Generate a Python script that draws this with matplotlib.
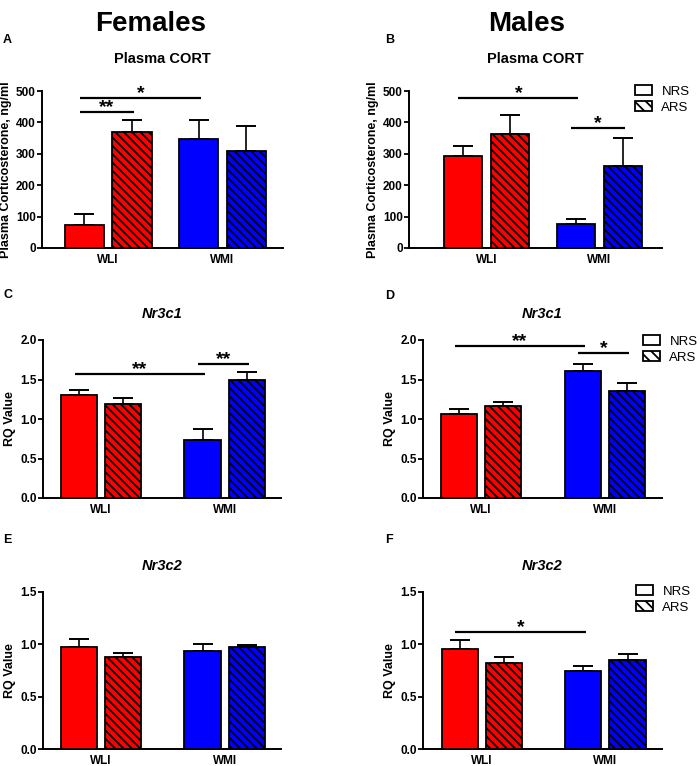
import numpy as np
import matplotlib
matplotlib.use("Agg")
from matplotlib import pyplot as plt
from matplotlib.patches import Patch

plt.rcParams["font.family"] = ["Liberation Sans", "DejaVu Sans"]
plt.rcParams["hatch.linewidth"] = 1.3

# data: order is WLI-NRS, WLI-ARS, WMI-NRS, WMI-ARS
groups = ["WLI", "WMI"]
stress = ["NRS", "ARS"]

cort_f = [74, 369, 348, 308]
cort_f_sem = [35, 39, 59, 80]
cort_m = [292, 364, 76, 260]
cort_m_sem = [32, 60, 15, 89]

nr3c1_f = [1.31, 1.19, 0.73, 1.49]
nr3c1_f_sem = [0.06, 0.08, 0.14, 0.11]
nr3c1_m = [1.06, 1.17, 1.61, 1.36]
nr3c1_m_sem = [0.07, 0.05, 0.09, 0.09]

nr3c2_f = [0.97, 0.88, 0.94, 0.97]
nr3c2_f_sem = [0.08, 0.04, 0.06, 0.02]
nr3c2_m = [0.96, 0.82, 0.75, 0.85]
nr3c2_m_sem = [0.08, 0.06, 0.04, 0.06]

# significance bars: (first bar, second bar, height, label)
sig_a = [(0, 2, 478, "*"), (0, 1, 434, "**")]
sig_b = [(0, 2, 478, "*"), (2, 3, 381, "*")]
sig_c = [(0, 2, 1.57, "**"), (2, 3, 1.69, "**")]
sig_d = [(0, 2, 1.92, "**"), (2, 3, 1.84, "*")]
sig_e = []
sig_f = [(0, 2, 1.12, "*")]

cort_ticks = [0, 100, 200, 300, 400, 500]
nr3c1_ticks = [0.0, 0.5, 1.0, 1.5, 2.0]
nr3c2_ticks = [0.0, 0.5, 1.0, 1.5]

W, H = 700, 766
fig = plt.figure(figsize=(W / 100, H / 100), dpi=100)

red = "#ff0000"
blue = "#0000ff"
hatch = "\\\\\\\\"

# panel layout in pixels: axes box (left, right, top, bottom), letter pos, legend pos
panels = [
    dict(letter="A", lpos=(3, 43), vals=cort_f, sem=cort_f_sem, sig=sig_a, ticks=cort_ticks,
         fmt="%d", title="Plasma CORT", italic=False, ylabel="Plasma Corticosterone, ng/ml",
         box=(42, 283, 91, 248), xlim=(-0.89, 4.17), gap=2.40, tpad=20, legend=None),
    dict(letter="B", lpos=(385, 43), vals=cort_m, sem=cort_m_sem, sig=sig_b, ticks=cort_ticks,
         fmt="%d", title="Plasma CORT", italic=False, ylabel="Plasma Corticosterone, ng/ml",
         box=(409, 662, 91, 248), xlim=(-1.15, 4.23), gap=2.40, tpad=20, legend=(635, 85)),
    dict(letter="C", lpos=(3, 298), vals=nr3c1_f, sem=nr3c1_f_sem, sig=sig_c, ticks=nr3c1_ticks,
         fmt="%.1f", title="Nr3c1", italic=True, ylabel="RQ Value",
         box=(43, 281, 340, 498), xlim=(-0.82, 4.58), gap=2.80, tpad=16, legend=None),
    dict(letter="D", lpos=(385, 299), vals=nr3c1_m, sem=nr3c1_m_sem, sig=sig_d, ticks=nr3c1_ticks,
         fmt="%.1f", title="Nr3c1", italic=True, ylabel="RQ Value",
         box=(423, 662, 340, 498), xlim=(-0.82, 4.60), gap=2.80, tpad=16, legend=(643, 335)),
    dict(letter="E", lpos=(3, 543), vals=nr3c2_f, sem=nr3c2_f_sem, sig=sig_e, ticks=nr3c2_ticks,
         fmt="%.1f", title="Nr3c2", italic=True, ylabel="RQ Value",
         box=(43, 281, 592, 749), xlim=(-0.82, 4.58), gap=2.80, tpad=16, legend=None),
    dict(letter="F", lpos=(385, 543), vals=nr3c2_m, sem=nr3c2_m_sem, sig=sig_f, ticks=nr3c2_ticks,
         fmt="%.1f", title="Nr3c2", italic=True, ylabel="RQ Value",
         box=(423, 662, 592, 749), xlim=(-0.83, 4.58), gap=2.80, tpad=16, legend=(636, 585)),
]

for p in panels:
    l, r, t, b = p["box"]
    ax = fig.add_axes([l / W, (H - b) / H, (r - l) / W, (b - t) / H])
    pos = np.array([0, 1, p["gap"], p["gap"] + 1])
    colors = [red, red, blue, blue]
    hatches = [None, hatch, None, hatch]

    ax.errorbar(pos, p["vals"], yerr=[np.zeros(4), p["sem"]], fmt="none",
                ecolor="black", elinewidth=1.2, capsize=7.5, capthick=1.4, zorder=2)
    for x, v, c, h in zip(pos, p["vals"], colors, hatches):
        ax.bar(x, v, width=0.82, color=c, edgecolor="black", linewidth=1.3,
               hatch=h, zorder=3)

    for i, j, y, lab in p["sig"]:
        x1, x2 = pos[i] - 0.1, pos[j] + 0.05
        ax.plot([x1, x2], [y, y], color="black", lw=1.6, solid_capstyle="butt",
                clip_on=False, zorder=4)
        ax.text((x1 + x2) / 2, y, lab, ha="center", va="baseline",
                fontsize=14, fontweight="bold")

    ax.set_xlim(*p["xlim"])
    ax.set_ylim(p["ticks"][0], p["ticks"][-1])
    ax.set_yticks(p["ticks"])
    ax.set_yticklabels([p["fmt"] % v for v in p["ticks"]], fontsize=8.5, fontweight="bold")
    ax.set_xticks([0.5, p["gap"] + 0.5])
    ax.set_xticklabels(groups, fontsize=8.5, fontweight="bold")
    ax.tick_params(axis="x", length=0, pad=4)
    ax.tick_params(axis="y", length=3.5, width=1.3, pad=1)
    for s in ["top", "right"]:
        ax.spines[s].set_visible(False)
    for s in ["left", "bottom"]:
        ax.spines[s].set_linewidth(1.4)
    ax.set_ylabel(p["ylabel"], fontsize=9, fontweight="bold", labelpad=3)
    ax.set_title(p["title"], fontsize=10.5, fontweight="bold",
                 fontstyle="italic" if p["italic"] else "normal", pad=p["tpad"])

    fig.text(p["lpos"][0] / W, 1 - p["lpos"][1] / H, p["letter"],
             fontsize=9, fontweight="bold", va="baseline")

    if p["legend"] is not None:
        lx, ly = p["legend"]
        handles = [Patch(facecolor="white", edgecolor="black", linewidth=1.3),
                   Patch(facecolor="white", edgecolor="black", linewidth=1.3, hatch="\\\\\\")]
        ax.legend(handles, stress, loc="upper left", bbox_to_anchor=(lx / W, 1 - ly / H),
                  bbox_transform=fig.transFigure, frameon=False, fontsize=9.5,
                  handlelength=1.3, handleheight=0.8, handletextpad=0.7,
                  labelspacing=0.25, borderaxespad=0, borderpad=0)

for x, lab in [(151, "Females"), (527, "Males")]:
    fig.text(x / W, 1 - 31 / H, lab, ha="center", va="baseline", fontsize=20,
             fontweight="bold")

fig.savefig("out.png", dpi=100)
